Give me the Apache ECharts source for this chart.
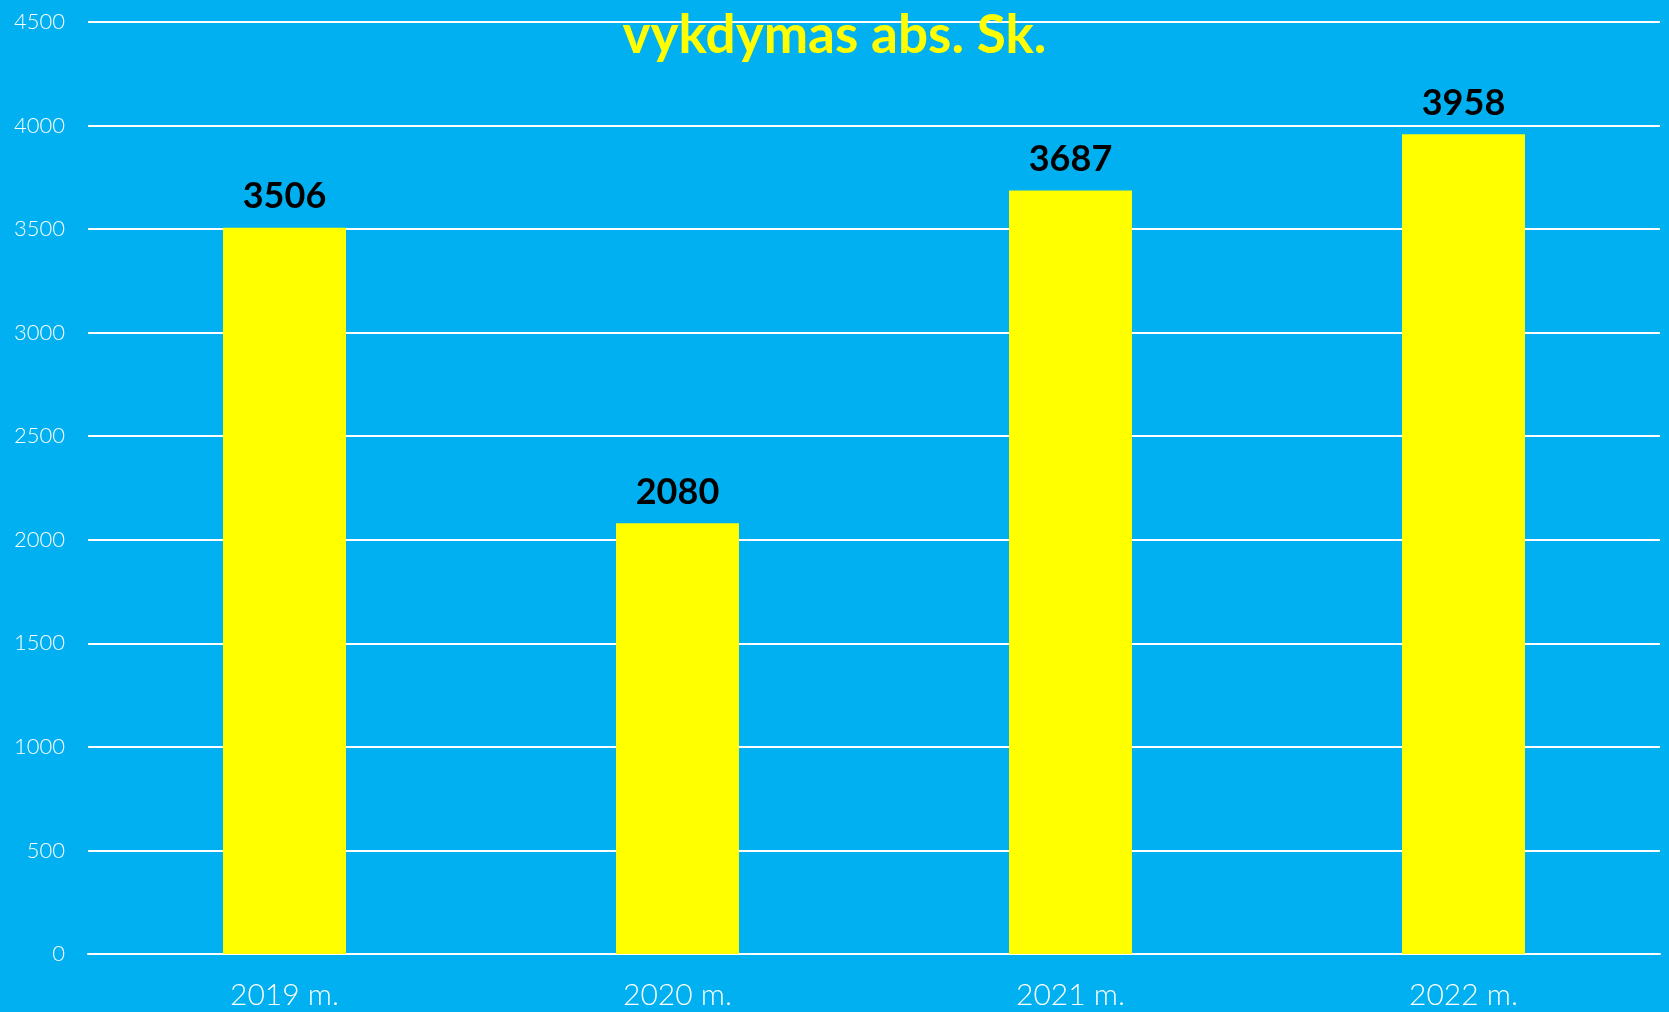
<!DOCTYPE html>
<html>
<head>
<meta charset="utf-8">
<script src="https://cdn.jsdelivr.net/npm/echarts@6/dist/echarts.min.js"></script>
<style>
html, body { margin: 0; padding: 0; background: #00B0F0; }
#chart { width: 1669px; height: 1012px; }
</style>
</head>
<body>
<div id="chart"></div>
<script>
// duomenys
var categories = ['2019 m.', '2020 m.', '2021 m.', '2022 m.'];
var values = [3506, 2080, 3687, 3958];
var titleText = 'vykdymas abs. Sk.';

var chart = echarts.init(document.getElementById('chart'));
var option = {
    backgroundColor: '#00B0F0',
    title: {
        text: titleText,
        left: 'center',
        top: 4,
        textStyle: {
            color: '#FFFF00',
            fontSize: 53,
            fontWeight: 'bold',
            fontFamily: 'Lato'
        }
    },
    grid: { left: 88, right: 9, top: 22, bottom: 58 },
    xAxis: {
        type: 'category',
        data: categories,
        axisLine: { show: true, lineStyle: { color: '#ffffff', width: 2 } },
        axisTick: { show: false },
        axisLabel: {
            color: '#ffffff',
            fontSize: 30,
            fontFamily: 'Lato',
            fontWeight: 300,
            margin: 26
        }
    },
    yAxis: {
        type: 'value',
        min: 0,
        max: 4500,
        interval: 500,
        axisLine: { show: false },
        axisTick: { show: false },
        splitLine: { lineStyle: { color: '#ffffff', width: 2 } },
        axisLabel: {
            color: '#ffffff',
            fontSize: 22,
            fontFamily: 'Lato',
            fontWeight: 300,
            margin: 23,
            formatter: function (v) { return String(v); }
        }
    },
    series: [{
        type: 'bar',
        data: values,
        barWidth: '31.3%',
        itemStyle: { color: '#FFFF00' },
        label: {
            show: true,
            position: 'top',
            distance: 13,
            color: '#000000',
            fontSize: 36,
            fontWeight: 'bold',
            fontFamily: 'Lato'
        }
    }]
};
chart.setOption(option);
</script>
</body>
</html>
